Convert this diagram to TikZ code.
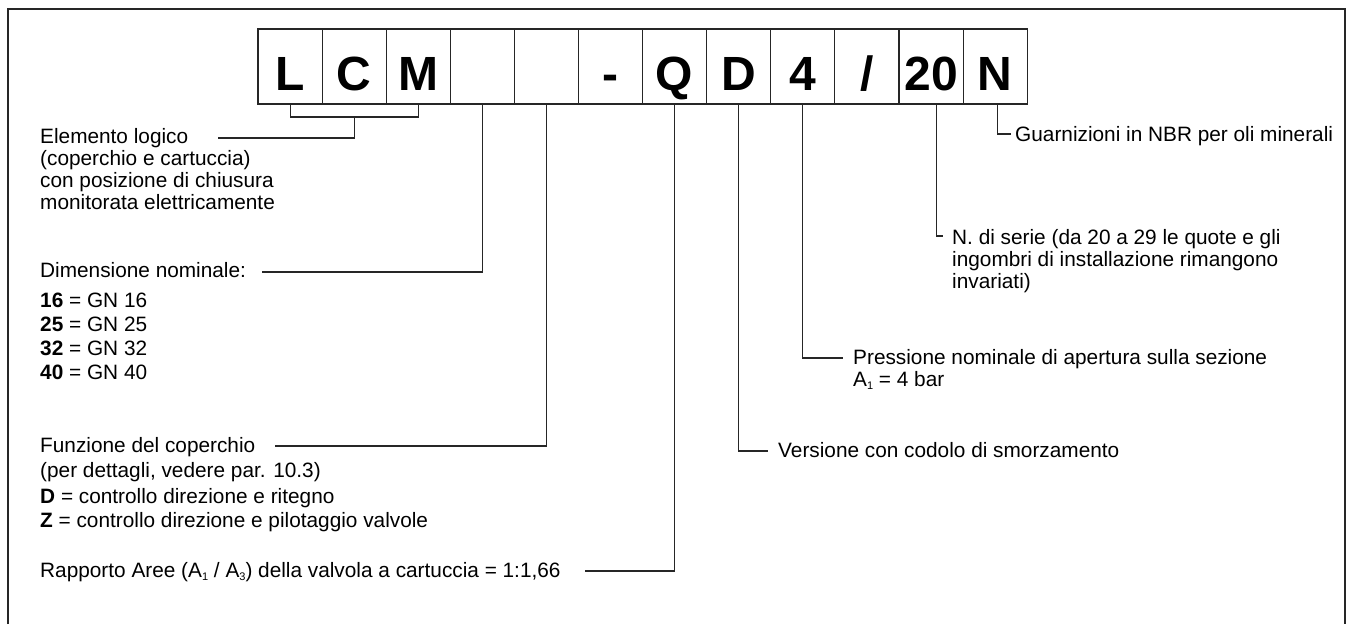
\documentclass[tikz,border=0pt]{standalone}
\usepackage{fontspec}
\setmainfont{Liberation Sans}
\usetikzlibrary{positioning}
\tikzset{
  cell/.style={draw=black!85,line width=1.1pt,minimum width=64.1pt,minimum height=75pt,inner sep=0pt,outer sep=0pt,text height=47pt,text depth=0pt,font=\fontsize{48}{48}\selectfont\bfseries},
  note/.style={anchor=base west,inner sep=0pt,align=left,font=\fontsize{20.8}{22}\selectfont},
  lead/.style={draw=black!85,line width=1.1pt},
  frame/.style={draw=black!85,line width=2pt}
}
\newcommand{\pedice}[1]{\raisebox{-0.35ex}{\fontsize{11}{11}\selectfont #1}}
\begin{document}
\begin{tikzpicture}[x=1pt,y=-1pt]
  \useasboundingbox (0,0) rectangle (1351,624);
  \draw[frame] (7.5,624) -- (7.5,9) -- (1345,9) -- (1345,624);
  % code boxes
  \node[cell] (b1) at (290.05,66.5) {L};
  \node[cell,right=0pt of b1] (b2) {C};
  \node[cell,right=0pt of b2] (b3) {M};
  \node[cell,right=0pt of b3] (b4) {};
  \node[cell,right=0pt of b4] (b5) {};
  \node[cell,right=0pt of b5] (b6) {-};
  \node[cell,right=0pt of b6] (b7) {Q};
  \node[cell,right=0pt of b7] (b8) {D};
  \node[cell,right=0pt of b8] (b9) {4};
  \node[cell,right=0pt of b9] (b10) {/};
  \node[cell,right=0pt of b10] (b11) {20};
  \node[cell,right=0pt of b11] (b12) {N};
  % left side notes (base = last line)
  \node[note] (ele) at (40,209) {Elemento logico\\(coperchio e cartuccia)\\con posizione di chiusura\\monitorata elettricamente};
  \node[note] (dim) at (40,277.7) {Dimensione nominale:};
  \node[note,font=\fontsize{20.8}{24}\selectfont] (gn) at (40,379) {\textbf{16} = GN 16\\\textbf{25} = GN 25\\\textbf{32} = GN 32\\\textbf{40} = GN 40};
  \node[note,font=\fontsize{20.8}{25}\selectfont] (fun) at (40,477) {Funzione del coperchio\\(per dettagli, vedere par. 10.3)};
  \node[note,font=\fontsize{20.8}{24}\selectfont] (dz) at (40,527) {\textbf{D} = controllo direzione e ritegno\\\textbf{Z} = controllo direzione e pilotaggio valvole};
  \node[note] (rap) at (40,577) {Rapporto Aree (A\pedice{1} / A\pedice{3}) della valvola a cartuccia = 1:1,66};
  % right side notes
  \node[note] (ver) at (778,457) {Versione con codolo di smorzamento};
  \node[note] (pre) at (853,386) {Pressione nominale di apertura sulla sezione\\A\pedice{1} = 4 bar};
  \node[note] (ser) at (952,288) {N. di serie (da 20 a 29 le quote e gli\\ingombri di installazione rimangono\\invariati)};
  \node[note] (gua) at (1015,141) {Guarnizioni in NBR per oli minerali};
  % line ends
  \coordinate (eleEnd) at (218,138);
  \coordinate (dimEnd) at (262,272);
  \coordinate (funEnd) at (275,446);
  \coordinate (rapEnd) at (585,571);
  \coordinate (verEnd) at (768,451);
  \coordinate (preEnd) at (843,358);
  \coordinate (serEnd) at (943,236);
  \coordinate (guaEnd) at (1011,134);
  % leaders
  \draw[lead] (b1.south) -- ++(0,13) -| (b3.south);
  \draw[lead] (b2.south) ++(0,13) |- (eleEnd);
  \draw[lead] (b4.south) |- (dimEnd);
  \draw[lead] (b5.south) |- (funEnd);
  \draw[lead] (b7.south) |- (rapEnd);
  \draw[lead] (b8.south) |- (verEnd);
  \draw[lead] (b9.south) |- (preEnd);
  \draw[lead] ([xshift=5pt]b11.south) |- (serEnd);
  \draw[lead] ([xshift=2pt]b12.south) |- (guaEnd);
\end{tikzpicture}
\end{document}
